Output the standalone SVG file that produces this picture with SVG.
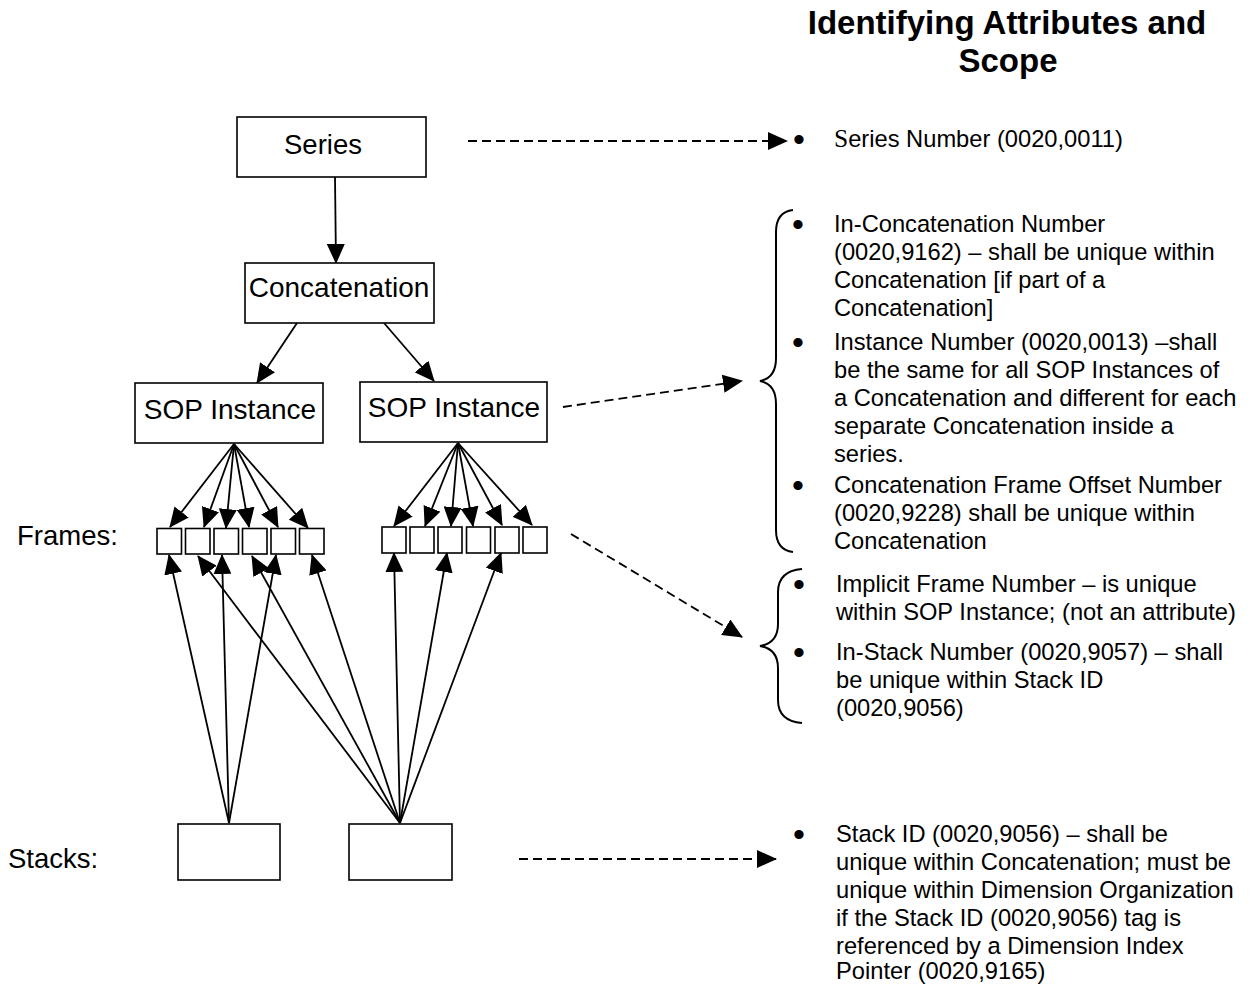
<svg xmlns="http://www.w3.org/2000/svg" width="1253" height="984" viewBox="0 0 1253 984">
<style>
.box{fill:#fff;stroke:#000;stroke-width:1.6}
.lbl{font-family:"Liberation Sans",Arial,sans-serif;font-size:28px;fill:#000;text-anchor:middle}
.side{font-family:"Liberation Sans",Arial,sans-serif;font-size:27.5px;fill:#000}
.txt{font-family:"Liberation Sans",Arial,sans-serif;font-size:23.7px;fill:#000}
.bul{font-family:"Liberation Sans",Arial,sans-serif;font-size:34px;fill:#000;text-anchor:middle}
.ttl{font-family:"Liberation Sans",Arial,sans-serif;font-size:33px;font-weight:bold;fill:#000;text-anchor:middle}
.ln{stroke:#000;stroke-width:1.8;fill:none;marker-end:url(#ah)}
.dl{stroke:#000;stroke-width:1.8;fill:none;stroke-dasharray:9 5;marker-end:url(#ah)}
.br{stroke:#000;stroke-width:2;fill:none}
</style>
<defs>
<marker id="ah" markerUnits="userSpaceOnUse" markerWidth="20" markerHeight="18" refX="19" refY="9" orient="auto">
<path d="M0,0 L20,9 L0,18 z" fill="#000"/>
</marker>
</defs>
<rect width="1253" height="984" fill="#fff"/>

<text class="ttl" x="1007" y="34">Identifying Attributes and</text>
<text class="ttl" x="1008" y="72">Scope</text>

<g id="connectors">
<line class="ln" x1="335" y1="177" x2="336" y2="263"/>
<line class="ln" x1="297" y1="323" x2="257" y2="383"/>
<line class="ln" x1="384" y1="323" x2="434" y2="381"/>
<line class="ln" x1="234" y1="444" x2="170" y2="527"/>
<line class="ln" x1="234" y1="444" x2="204" y2="527"/>
<line class="ln" x1="234" y1="444" x2="226" y2="528"/>
<line class="ln" x1="234" y1="444" x2="249" y2="527"/>
<line class="ln" x1="234" y1="444" x2="278" y2="527"/>
<line class="ln" x1="234" y1="444" x2="308" y2="528"/>
<line class="ln" x1="458" y1="443" x2="394" y2="526"/>
<line class="ln" x1="458" y1="443" x2="425" y2="526"/>
<line class="ln" x1="458" y1="443" x2="451" y2="526"/>
<line class="ln" x1="458" y1="443" x2="473" y2="526"/>
<line class="ln" x1="458" y1="443" x2="502" y2="525"/>
<line class="ln" x1="458" y1="443" x2="532" y2="525"/>
<line class="ln" x1="229" y1="823" x2="169" y2="555"/>
<line class="ln" x1="229" y1="823" x2="222" y2="555"/>
<line class="ln" x1="229" y1="823" x2="276" y2="555"/>
<line class="ln" x1="400" y1="823" x2="198" y2="556"/>
<line class="ln" x1="400" y1="823" x2="252" y2="556"/>
<line class="ln" x1="400" y1="823" x2="312" y2="555"/>
<line class="ln" x1="400" y1="823" x2="394" y2="553"/>
<line class="ln" x1="400" y1="823" x2="447" y2="553"/>
<line class="ln" x1="400" y1="823" x2="501" y2="553"/>
<line class="dl" x1="468" y1="141" x2="787" y2="141"/>
<line class="dl" x1="563" y1="407" x2="742" y2="381"/>
<line class="dl" x1="571" y1="534" x2="742" y2="637"/>
<line class="dl" x1="519" y1="859" x2="776" y2="859"/>
</g>

<g id="series"><rect class="box" x="237" y="117" width="189" height="60"/><text class="lbl" x="323" y="154" style="font-size:27.5px">Series</text></g>
<g id="concatenation"><rect class="box" x="245" y="263" width="189" height="60"/><text class="lbl" x="339" y="297">Concatenation</text></g>
<g id="sop1"><rect class="box" x="135" y="383" width="188" height="60"/><text class="lbl" x="230" y="419">SOP Instance</text></g>
<g id="sop2"><rect class="box" x="360" y="382" width="187" height="60"/><text class="lbl" x="454" y="417">SOP Instance</text></g>

<g id="frames1">
<rect class="box" x="157" y="528.5" width="24.5" height="25.5"/>
<rect class="box" x="185.5" y="528.5" width="24.5" height="25.5"/>
<rect class="box" x="214" y="528.5" width="24.5" height="25.5"/>
<rect class="box" x="242.5" y="528.5" width="24.5" height="25.5"/>
<rect class="box" x="271" y="528.5" width="24.5" height="25.5"/>
<rect class="box" x="299.5" y="528.5" width="24.5" height="25.5"/>
</g>
<g id="frames2">
<rect class="box" x="382" y="527" width="24" height="26"/>
<rect class="box" x="410" y="527" width="24" height="26"/>
<rect class="box" x="438" y="527" width="24" height="26"/>
<rect class="box" x="466.5" y="527" width="24" height="26"/>
<rect class="box" x="495" y="527" width="24" height="26"/>
<rect class="box" x="523" y="527" width="24" height="26"/>
</g>
<g id="stack1"><rect class="box" x="178" y="824" width="102" height="56"/></g>
<g id="stack2"><rect class="box" x="349" y="824" width="103" height="56"/></g>

<text class="side" x="17" y="545">Frames:</text>
<text class="side" x="8" y="868">Stacks:</text>

<g id="series-attrs">
<text class="bul" x="799" y="151">•</text>
<text class="txt" x="834" y="147"><tspan style="font-family:'Liberation Serif',serif;font-size:25.5px">S</tspan>eries Number (0020,0011)</text>
</g>

<g id="concat-attrs">
<path class="br" d="M793,210 Q776,212 776,232 L776,358 Q776,378 760,381 Q776,384 776,404 L776,530 Q776,550 793,552"/>
<text class="bul" x="798" y="236">•</text>
<text class="txt" x="834" y="232">In-Concatenation Number</text>
<text class="txt" x="834" y="260">(0020,9162) – shall be unique within</text>
<text class="txt" x="834" y="288">Concatenation [if part of a</text>
<text class="txt" x="834" y="316">Concatenation]</text>
<text class="bul" x="798" y="354">•</text>
<text class="txt" x="834" y="350">Instance Number (0020,0013) –shall</text>
<text class="txt" x="834" y="378">be the same for all SOP Instances of</text>
<text class="txt" x="834" y="406">a Concatenation and different for each</text>
<text class="txt" x="834" y="434">separate Concatenation inside a</text>
<text class="txt" x="834" y="462">series.</text>
<text class="bul" x="798" y="497">•</text>
<text class="txt" x="834" y="493">Concatenation Frame Offset Number</text>
<text class="txt" x="834" y="521">(0020,9228) shall be unique within</text>
<text class="txt" x="834" y="549">Concatenation</text>
</g>

<g id="frame-attrs">
<path class="br" d="M802,569 Q778,571 778,592 L778,624 Q778,643 760,646 Q778,649 778,668 L778,700 Q778,721 802,723"/>
<text class="bul" x="799" y="596">•</text>
<text class="txt" x="836" y="592">Implicit Frame Number – is unique</text>
<text class="txt" x="836" y="620">within SOP Instance; (not an attribute)</text>
<text class="bul" x="799" y="664">•</text>
<text class="txt" x="836" y="660">In-Stack Number (0020,9057) – shall</text>
<text class="txt" x="836" y="688">be unique within Stack ID</text>
<text class="txt" x="836" y="716">(0020,9056)</text>
</g>

<g id="stack-attrs">
<text class="bul" x="799" y="846">•</text>
<text class="txt" x="836" y="842">Stack ID (0020,9056) – shall be</text>
<text class="txt" x="836" y="870">unique within Concatenation; must be</text>
<text class="txt" x="836" y="898">unique within Dimension Organization</text>
<text class="txt" x="836" y="926">if the Stack ID (0020,9056) tag is</text>
<text class="txt" x="836" y="954">referenced by a Dimension Index</text>
<text class="txt" x="836" y="979">Pointer (0020,9165)</text>
</g>
</svg>
